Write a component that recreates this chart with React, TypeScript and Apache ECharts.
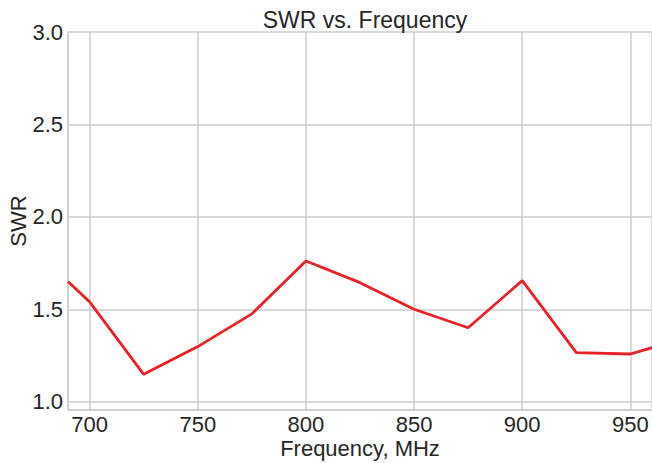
import React, { useEffect, useRef } from "react";
import * as echarts from "echarts";

const frequencies = [690, 700, 725, 750, 775, 800, 825, 850, 875, 900, 925, 950, 960];
const swrValues = [1.65, 1.54, 1.148, 1.298, 1.475, 1.761, 1.644, 1.5, 1.4, 1.655, 1.265, 1.258, 1.292];

const titleText = "SWR vs. Frequency";
const xName = "Frequency, MHz";
const yName = "SWR";

const FONT = "'Liberation Sans', Arial, Helvetica, sans-serif";
const TEXT = "#262626";
const GRID = "#cccccc";

export default function App() {
  const ref = useRef<HTMLDivElement>(null);
  useEffect(() => {
    if (!ref.current) return;
    const chart = echarts.init(ref.current, undefined, { renderer: "svg" });
    chart.setOption({
      animation: false,
      backgroundColor: "#ffffff",
      textStyle: { fontFamily: FONT },
      title: {
        text: titleText,
        left: 360,
        textAlign: "center",
        top: 3,
        textStyle: { fontFamily: FONT, fontSize: 23, fontWeight: "normal", color: TEXT },
      },
      grid: {
        left: 68,
        right: 0,
        top: 32,
        bottom: 53,
        containLabel: false,
        outerBoundsMode: "none",
        show: false,
      },
      xAxis: {
        type: "value",
        min: 690,
        max: 960,
        splitNumber: 5,
        name: xName,
        nameLocation: "middle",
        nameGap: 27,
        nameMoveOverlap: false,
        nameTextStyle: { fontFamily: FONT, fontSize: 22, color: TEXT },
        axisLine: { show: true, onZero: false, lineStyle: { color: GRID, width: 1.5 } },
        axisTick: { show: false },
        axisLabel: {
          showMinLabel: false,
          showMaxLabel: false,
          fontFamily: FONT,
          fontSize: 22,
          color: TEXT,
          margin: 3,
        },
        splitLine: { show: true, lineStyle: { color: GRID, width: 1.5 } },
      },
      yAxis: {
        type: "value",
        min: 0.955,
        max: 3.0,
        splitNumber: 4,
        name: yName,
        nameLocation: "middle",
        nameGap: 39,
        nameMoveOverlap: false,
        nameRotate: 90,
        nameTextStyle: { fontFamily: FONT, fontSize: 22, color: TEXT },
        axisLine: { show: true, onZero: false, lineStyle: { color: GRID, width: 1.5 } },
        axisTick: { show: false },
        axisLabel: {
          showMinLabel: false,
          fontFamily: FONT,
          fontSize: 22,
          color: TEXT,
          margin: 5,
          formatter: (v: number) => v.toFixed(1),
        },
        splitLine: { show: true, lineStyle: { color: GRID, width: 1.5 } },
      },
      series: [
        {
          type: "line",
          data: frequencies.map((f, i) => [f, swrValues[i]]),
          showSymbol: false,
          symbol: "none",
          lineStyle: { color: "#ea2228", width: 2.8 },
          clip: true,
        },
      ],
    });
    return () => chart.dispose();
  }, []);
  return (
    <div
      ref={ref}
      style={{ position: "fixed", left: 0, top: 0, width: 652, height: 463 }}
    />
  );
}
